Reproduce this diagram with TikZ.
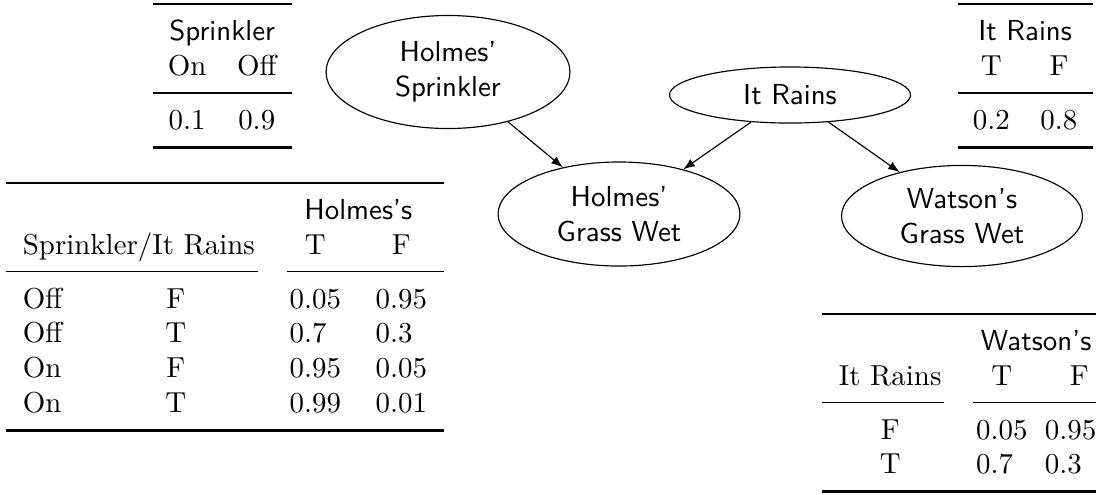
\documentclass[tikz,border=0pt]{standalone}
\usepackage{booktabs}
\setlength{\heavyrulewidth}{0.95pt}
\setlength{\lightrulewidth}{0.5pt}
\setlength{\cmidrulewidth}{0.4pt}
\setlength{\belowrulesep}{3.9pt}
\setlength{\aboverulesep}{2.2pt}
\usetikzlibrary{shapes.geometric,arrows}
\begin{document}
\begin{tikzpicture}[x=0.34602pt,y=-0.34602pt,
  bn/.style={draw,ellipse,inner sep=0pt,align=center,font=\sffamily},
  cpt/.style={inner sep=0pt,anchor=north west},
  edge/.style={-latex,line width=0.4pt}]
\useasboundingbox (0,0) rectangle (1096,494);
% Bayesian network nodes
\node[bn,minimum width=84.4pt,minimum height=39.1pt] (spr) at (448,72) {Holmes'\\Sprinkler};
\node[bn,minimum width=83.4pt,minimum height=19.4pt] (rain) at (790,95) {It Rains};
\node[bn,minimum width=83.7pt,minimum height=36pt] (hgw) at (619,214) {Holmes'\\Grass Wet};
\node[bn,minimum width=83.4pt,minimum height=35pt] (wgw) at (962,216) {Watson's\\Grass Wet};
\draw[edge] (spr) -- (hgw);
\draw[edge] (rain) -- (hgw);
\draw[edge] (rain) -- (wgw);
% Probability tables
\node[cpt] (tabS) at (152,2) {\setlength{\tabcolsep}{5.3pt}\begin{tabular}{cc}
\toprule
\multicolumn{2}{c}{\sffamily Sprinkler}\\
On & Off\\
\midrule
0.1 & 0.9\\
\bottomrule
\end{tabular}};
\node[cpt] (tabR) at (957,2) {\setlength{\tabcolsep}{5.3pt}\begin{tabular}{cc}
\toprule
\multicolumn{2}{c}{\sffamily It Rains}\\
T & F\\
\midrule
0.2 & 0.8\\
\bottomrule
\end{tabular}};
\node[cpt] (tabH) at (5,181) {\begin{tabular}{lcll}
\toprule
 & & \multicolumn{2}{c}{\sffamily Holmes's}\\
\multicolumn{2}{c}{Sprinkler/It Rains} & \multicolumn{1}{c}{T} & \multicolumn{1}{c}{F}\\
\cmidrule(r){1-2}\cmidrule(l){3-4}
Off & F & 0.05 & 0.95\\
Off & T & 0.7 & 0.3\\
On & F & 0.95 & 0.05\\
On & T & 0.99 & 0.01\\
\bottomrule
\end{tabular}};
\node[cpt] (tabW) at (821,312) {\begin{tabular}{cl@{\hspace{6pt}}l}
\toprule
 & \multicolumn{2}{c}{\sffamily Watson's}\\
It Rains & \multicolumn{1}{c}{T} & \multicolumn{1}{c}{F}\\
\cmidrule(r){1-1}\cmidrule(l){2-3}
F & 0.05 & 0.95\\
T & 0.7 & 0.3\\
\bottomrule
\end{tabular}};
\end{tikzpicture}
\end{document}
